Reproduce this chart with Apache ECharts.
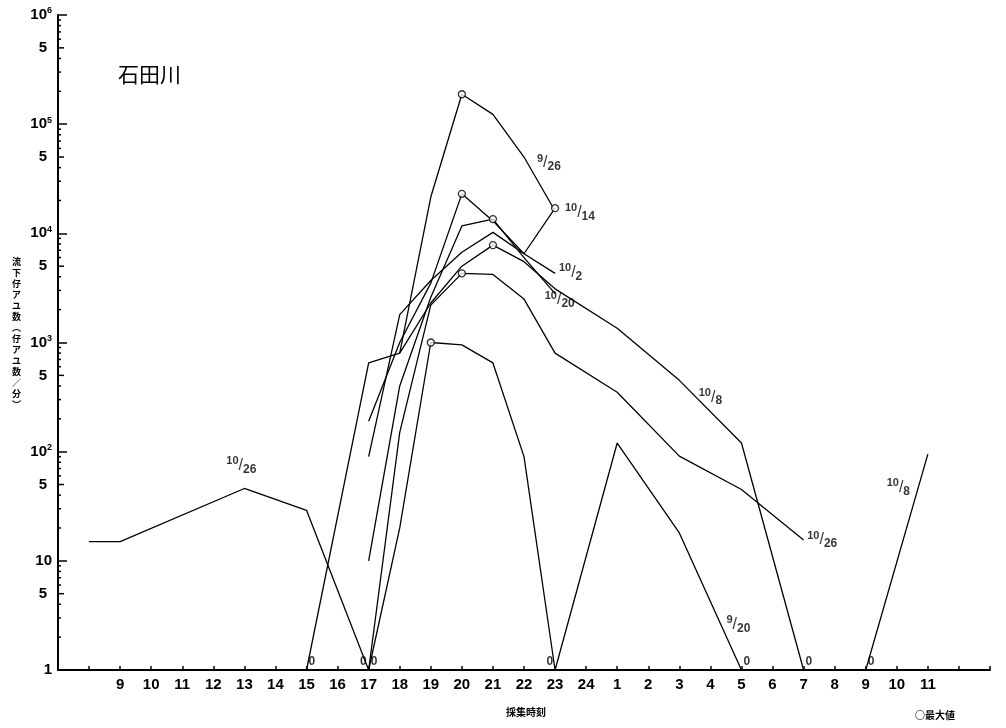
<!DOCTYPE html>
<html lang="ja">
<head>
    <meta charset="UTF-8">
    <title>石田川</title>
    <script src="https://cdn.jsdelivr.net/npm/echarts@6.0.0/dist/echarts.min.js"></script>
    <style>
        *{
            margin: 0;
            padding: 0;
        }
        html,body{
            width: 100%;
            height: 100%;
            background: #fff;
        }
        .main{
            width: 1006px;
            height: 728px;
        }
    </style>
</head>
<body>
<div class="main"></div>
<script>
    // 採集時刻 (clock hours) and 流下仔アユ数 (per minute); 0 = none caught
    const dates = ['9/20', '9/26', '10/2', '10/8', '10/14', '10/20', '10/26'];
    const hours0920 = [17, 18, 19, 20, 21, 22, 23, 1, 3, 5];
    const count0920 = [0, 20, 1000, 950, 650, 90, 0, 120, 18, 0];
    const hours0926 = [18, 19, 20, 21, 22, 23];
    const count0926 = [800, 21500, 188000, 123000, 50000, 16000];
    const hours1002 = [17, 18, 19, 20, 21, 22, 23];
    const count1002 = [190, 1000, 3500, 23000, 13000, 6500, 4300];
    const hours1008 = [15, 17, 18, 19, 20, 21, 22, 23, 1, 3, 5, 7, 9, 11];
    const count1008 = [0, 650, 800, 2300, 5000, 7800, 5500, 3100, 1350, 450, 120, 0, 0, 95];
    const hours1014 = [17, 18, 19, 20, 21, 22, 23];
    const count1014 = [90, 1800, 3700, 6700, 10200, 6500, 17000];
    const hours1020 = [17, 18, 19, 20, 21, 22, 23];
    const count1020 = [10, 400, 2600, 11700, 13500, 6000, 2800];
    const hours1026 = [8, 9, 13, 15, 17, 18, 19, 20, 21, 22, 23, 1, 3, 5, 7];
    const count1026 = [15, 15, 46, 29, 0, 150, 2200, 4300, 4200, 2500, 800, 350, 91, 45, 15.5];

    // x tick labels from 9 o'clock to 11 o'clock next day
    const tickLabels = ['9','10','11','12','13','14','15','16','17','18','19','20','21','22','23','24',
        '1','2','3','4','5','6','7','8','9','10','11'];
    const firstLabelHour = 9;

    // date labels drawn beside the curves
    const labelText = ['10/26', '9/26', '10/14', '10/2', '10/20', '10/8', '10/26', '9/20', '10/8'];
    const labelHour = [12.9, 22.8, 23.8, 23.5, 23.15, 28.0, 31.6, 28.9, 34.05];
    const labelValue = [75, 44000, 15500, 4400, 2450, 316, 15.5, 2.6, 47];

    // "0" marks at the foot of the axis (the last three are next morning)
    const zeroHour = [15, 17, 17, 23, 5, 7, 9];
    const zeroSide = ['right', 'left', 'right', 'left', 'right', 'right', 'right'];

    const hoursList = [hours0920, hours0926, hours1002, hours1008, hours1014, hours1020, hours1026];
    const countList = [count0920, count0926, count1002, count1008, count1014, count1020, count1026];

    // clock hours -> continuous hours (after midnight adds 24)
    function unwrap(hs){
        let out = [], add = 0, prev = -1;
        hs.forEach(h=>{
            if(h + add < prev) add += 24;
            prev = h + add;
            out.push(h + add);
        });
        return out;
    }

    const FONT = "'Liberation Sans Narrow', 'Liberation Sans', Arial, sans-serif";
    const JP = "'Noto Sans CJK JP', sans-serif";
    let main = echarts.init(document.getElementsByClassName('main')[0]);
    let series = [];
    let maxPoints = [];

    dates.forEach((d, i)=>{
        let hs = unwrap(hoursList[i]);
        let vs = countList[i];
        let data = hs.map((h, k)=>[h, vs[k] === 0 ? 1 : vs[k]]);
        let mi = 0;
        vs.forEach((v, k)=>{ if(v > vs[mi]) mi = k; });
        maxPoints.push([hs[mi], vs[mi]]);
        series.push({
            name: d,
            type: 'line',
            data: data,
            showSymbol: false,
            symbol: 'none',
            lineStyle: {color: '#000', width: 1.3},
            z: 2,
            animation: false
        });
    });

    // maximum value circles
    series.push({
        name: '最大値',
        type: 'scatter',
        data: maxPoints,
        symbol: 'circle',
        symbolSize: 7,
        itemStyle: {color: '#fff', borderColor: '#000', borderWidth: 1.3},
        z: 5,
        animation: false
    });

    let zeroData = zeroHour.map((h, i)=>{
        let x = (i >= 4) ? h + 24 : h;
        let right = zeroSide[i] === 'right';
        return {
            value: [x, 1],
            label: {
                show: true,
                formatter: '0',
                position: right ? 'right' : 'left',
                distance: 2,
                offset: [0, -8],
                fontSize: 12,
                fontWeight: 'bold',
                fontFamily: FONT,
                color: '#000'
            }
        };
    });
    series.push({
        type: 'scatter',
        data: zeroData,
        symbolSize: 0,
        z: 6,
        animation: false
    });

    // date labels as small fractions
    let labelData = labelText.map((t, i)=>{
        let p = t.split('/');
        return {
            value: [labelHour[i], labelValue[i]],
            label: {
                show: true,
                position: 'inside',
                formatter: '{n|' + p[0] + '}{s|/}{d|' + p[1] + '}',
                rich: {
                    n: {fontSize: 11, fontWeight: 'bold', fontFamily: FONT, color: '#000', verticalAlign: 'top', lineHeight: 20},
                    s: {fontSize: 16, fontFamily: FONT, color: '#000', lineHeight: 20},
                    d: {fontSize: 12, fontWeight: 'bold', fontFamily: FONT, color: '#000', verticalAlign: 'bottom', lineHeight: 20, padding: [6, 0, 0, 0]}
                }
            }
        };
    });
    series.push({
        type: 'scatter',
        data: labelData,
        symbolSize: 0,
        z: 6,
        animation: false
    });

    // minor ticks of the log axis (2..9 in each decade), with the "5" labels
    let minor = [];
    for(let e = 0; e < 6; e++){
        for(let m = 2; m <= 9; m++){
            minor.push([7, m * Math.pow(10, e), m]);
        }
    }
    series.push({
        type: 'custom',
        data: minor,
        encode: {x: 0, y: 1},
        clip: false,
        silent: true,
        animation: false,
        renderItem: function (params, api) {
            let p = api.coord([api.value(0), api.value(1)]);
            let m = api.value(2);
            let len = m === 5 ? 6 : 3;
            let children = [{
                type: 'line',
                shape: {x1: p[0], y1: p[1], x2: p[0] + len, y2: p[1]},
                style: {stroke: '#000', lineWidth: 1.5}
            }];
            if(m === 5){
                children.push({
                    type: 'text',
                    x: p[0] - 11,
                    y: p[1],
                    style: {
                        text: '5',
                        align: 'right',
                        verticalAlign: 'middle',
                        fontSize: 15,
                        fontWeight: 'bold',
                        fontFamily: FONT,
                        fill: '#000'
                    }
                });
            }
            return {type: 'group', children: children};
        }
    });

    let option = {
        backgroundColor: '#fff',
        animation: false,
        grid: {left: 58, right: 16, top: 15, bottom: 58},
        xAxis: {
            type: 'value',
            min: 7,
            max: 37,
            interval: 1,
            axisLine: {lineStyle: {color: '#000', width: 2}},
            axisTick: {inside: true, length: 4, lineStyle: {color: '#000', width: 1.5}},
            splitLine: {show: false},
            axisLabel: {
                margin: 7,
                color: '#000',
                fontSize: 15,
                fontWeight: 'bold',
                fontFamily: FONT,
                formatter: function (v) {
                    let i = Math.round(v) - firstLabelHour;
                    return (i >= 0 && i < tickLabels.length) ? tickLabels[i] : '';
                }
            }
        },
        yAxis: {
            type: 'log',
            logBase: 10,
            min: 1,
            max: 1000000,
            axisLine: {lineStyle: {color: '#000', width: 2}},
            axisTick: {inside: true, length: 9, lineStyle: {color: '#000', width: 1.5}},
            splitLine: {show: false},
            axisLabel: {
                margin: 6,
                color: '#000',
                formatter: function (v) {
                    let e = Math.round(Math.log10(v));
                    if(e === 0) return '{b|1}';
                    if(e === 1) return '{b|10}';
                    return '{b|10}{e|' + e + '}';
                },
                rich: {
                    b: {fontSize: 15, fontWeight: 'bold', fontFamily: FONT, color: '#000'},
                    e: {fontSize: 9, fontWeight: 'bold', fontFamily: FONT, color: '#000', verticalAlign: 'top', padding: [0, 0, 8, 0]}
                }
            }
        },
        graphic: [
            {
                type: 'text', left: 118, top: 64,
                style: {text: '石田川', fontSize: 21, fontFamily: JP, fill: '#000'}
            },
            {
                type: 'text', left: 12, top: 256,
                style: {
                    text: ['流','下','仔','ア','ユ','数','︵','仔','ア','ユ','数','／','分','︶'].join('\n'),
                    fontSize: 9, lineHeight: 11, fontWeight: 'bold',
                    fontFamily: JP, fill: '#000'
                }
            },
            {
                type: 'text', left: 506, top: 707,
                style: {text: '採集時刻', fontSize: 10, fontWeight: 'bold', fontFamily: JP, fill: '#000'}
            },
            {
                type: 'text', left: 915, top: 710,
                style: {text: '○最大値', fontSize: 10, fontWeight: 'bold', fontFamily: JP, fill: '#000'}
            }
        ],
        series
    };
    main.setOption(option);
</script>
</body>
</html>
